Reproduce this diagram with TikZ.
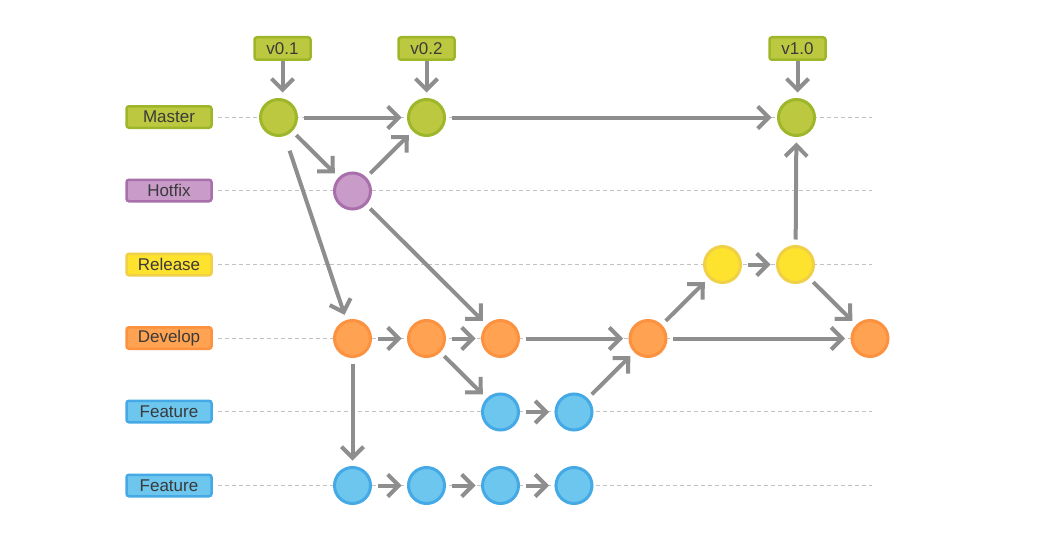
\documentclass[tikz,border=0pt]{standalone}
\usepackage{fontspec}
\setmainfont{Liberation Sans}
\usepackage{xcolor}
\usetikzlibrary{arrows.meta, positioning}

\definecolor{gfill}{HTML}{BCC940}
\definecolor{gline}{HTML}{9DB62A}
\definecolor{pfill}{HTML}{C99BC9}
\definecolor{pline}{HTML}{A86FAB}
\definecolor{yfill}{HTML}{FDE22E}
\definecolor{yline}{HTML}{EFD046}
\definecolor{ofill}{HTML}{FFA252}
\definecolor{oline}{HTML}{FC913F}
\definecolor{bfill}{HTML}{6CC6EE}
\definecolor{bline}{HTML}{45A9E5}
\definecolor{arr}{HTML}{8E8E8E}
\definecolor{lanec}{HTML}{C2C2C2}
\definecolor{txt}{HTML}{3A3A3A}

\begin{document}
\begin{tikzpicture}[x=1pt, y=-1pt,
    branch/.style={draw, line width=2.5pt, rounded corners=2.5pt, minimum width=85pt, minimum height=21.5pt, inner sep=0pt, text=txt, font=\fontsize{17}{19}\selectfont},
    tag/.style={branch, minimum width=56pt, minimum height=22.5pt, fill=gfill, draw=gline},
    commit/.style={circle, line width=3pt, minimum size=36pt, inner sep=0pt, outer sep=7pt},
    flow/.style={draw=arr, line width=4pt, -{Straight Barb[length=11pt, width=22pt]}},
    lane/.style={draw=lanec, line width=1pt, dash pattern=on 4pt off 3pt, shorten <=5pt}]
    \useasboundingbox (0,0) rectangle (1055,551);

    % branches
    \node[branch, fill=gfill, draw=gline] (master) at (169,117) {Master};
    \node[branch, fill=pfill, draw=pline] (hotfix) at (169,190.5) {Hotfix};
    \node[branch, fill=yfill, draw=yline] (release) at (169,264.5) {Release};
    \node[branch, fill=ofill, draw=oline] (develop) at (169,338) {Develop};
    \node[branch, fill=bfill, draw=bline] (featA) at (169,411.5) {Feature};
    \node[branch, fill=bfill, draw=bline] (featB) at (169,485.5) {Feature};

    % dashed lanes
    \coordinate (endM) at (872,117);
    \coordinate (endH) at (872,190.5);
    \coordinate (endR) at (872,264.5);
    \coordinate (endD) at (872,338);
    \coordinate (endA) at (872,411.5);
    \coordinate (endB) at (872,485.5);
    \draw[lane] (master) -- (endM);
    \draw[lane] (hotfix) -- (endH);
    \draw[lane] (release) -- (endR);
    \draw[lane] (develop) -- (endD);
    \draw[lane] (featA) -- (endA);
    \draw[lane] (featB) -- (endB);

    % tags
    \node[tag] (t01) at (282.5,48.5) {v0.1};
    \node[tag] (t02) at (426.5,48.5) {v0.2};
    \node[tag] (t10) at (797.5,48.5) {v1.0};

    % commits
    \node[commit, fill=gfill, draw=gline] (m1) at (278.5,117.5) {};
    \node[commit, fill=gfill, draw=gline] (m2) at (426.5,117.5) {};
    \node[commit, fill=gfill, draw=gline] (m3) at (796.5,117.5) {};
    \node[commit, fill=pfill, draw=pline] (h1) at (352.5,191) {};
    \node[commit, fill=yfill, draw=yline] (r1) at (722.5,264.5) {};
    \node[commit, fill=yfill, draw=yline] (r2) at (795.5,264.5) {};
    \node[commit, fill=ofill, draw=oline] (d1) at (352.5,338.5) {};
    \node[commit, fill=ofill, draw=oline] (d2) at (426.5,338.5) {};
    \node[commit, fill=ofill, draw=oline] (d3) at (500.5,338.5) {};
    \node[commit, fill=ofill, draw=oline] (d4) at (648,338.5) {};
    \node[commit, fill=ofill, draw=oline] (d5) at (870,338.5) {};
    \node[commit, fill=bfill, draw=bline] (a1) at (500.5,412) {};
    \node[commit, fill=bfill, draw=bline] (a2) at (574,412) {};
    \node[commit, fill=bfill, draw=bline] (b1) at (352.5,485.5) {};
    \node[commit, fill=bfill, draw=bline] (b2) at (426.5,485.5) {};
    \node[commit, fill=bfill, draw=bline] (b3) at (500.5,485.5) {};
    \node[commit, fill=bfill, draw=bline] (b4) at (574,485.5) {};

    % merges and branches
    \draw[flow] (t01) -- (t01 |- m1.north);
    \draw[flow] (t02) -- (t02 |- m2.north);
    \draw[flow] (t10) -- (t10 |- m3.north);
    \draw[flow] (m1) -- (m2);
    \draw[flow] (m1) -- (h1);
    \draw[flow] (h1) -- (m2);
    \draw[flow] (m2) -- (m3);
    \draw[flow, shorten <=10pt] (m1) -- (d1);
    \draw[flow] (h1) -- (d3);
    \draw[flow] (d1) -- (d2);
    \draw[flow] (d2) -- (d3);
    \draw[flow] (d3) -- (d4);
    \draw[flow] (d4) -- (d5);
    \draw[flow] (d2) -- (a1);
    \draw[flow] (a1) -- (a2);
    \draw[flow] (a2) -- (d4);
    \draw[flow] (d1) -- (b1);
    \draw[flow] (b1) -- (b2);
    \draw[flow] (b2) -- (b3);
    \draw[flow] (b3) -- (b4);
    \draw[flow] (d4) -- (r1);
    \draw[flow] (r1) -- (r2);
    \draw[flow] (r2) -- (m3);
    \draw[flow] (r2) -- (d5);
\end{tikzpicture}
\end{document}
